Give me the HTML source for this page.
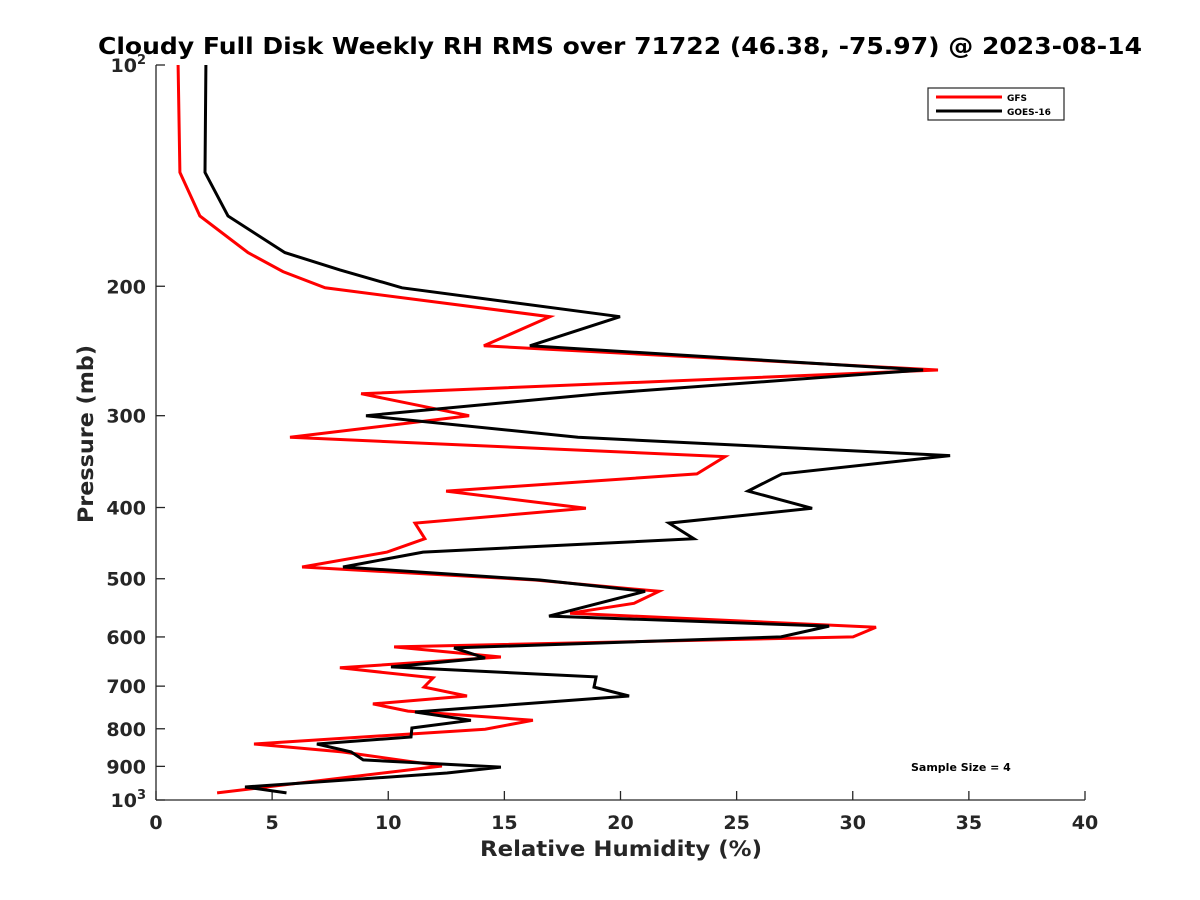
<!DOCTYPE html>
<html><head><meta charset="utf-8"><style>
body{margin:0;background:#fff;}
svg{display:block;font-family:"DejaVu Sans","Liberation Sans",sans-serif;}
</style></head><body>
<svg id="chart" width="1200" height="900"></svg>
<script>
const gfsRH=[0.95,1.03,1.89,3.96,5.47,7.28,16.96,14.12,33.67,8.83,13.48,5.77,24.5,23.29,12.49,18.51,11.15,11.58,9.95,6.29,16.32,21.66,20.58,17.83,31.0,30.01,10.25,14.85,7.92,11.93,11.54,13.39,9.34,10.85,16.23,14.17,4.22,8.01,12.31,2.63];
const gfsP=[100,140,160.5,180,191,201,220,241,260,280,300,321,341,360,380,401,420,441,460,482,502,520,540,557,582,600,619,639,661,682,702,722,740,757,779,801,839,860,899,978];
const goesRH=[2.15,2.11,3.10,5.55,7.92,10.59,19.98,16.10,33.03,19.12,9.04,18.17,34.19,26.95,25.49,28.25,22.09,23.16,11.50,8.05,16.53,21.06,16.92,28.98,26.91,12.83,14.17,10.12,18.95,18.86,20.37,11.15,13.56,11.02,10.98,6.93,8.40,8.92,14.85,12.53,3.83,5.62];
const goesP=[100,140,160.5,180,190,201,220,241,260,280,300,321,340,360,380,401,420,441,460,482,502,520,562,580,600,621,641,659,680,702,722,759,779,798,821,839,860,882,902,919,960,978];
const xTicks=[0,5,10,15,20,25,30,35,40];
const yTicks=[100,200,300,400,500,600,700,800,900,1000];
const yTickLabels=["10^2","200","300","400","500","600","700","800","900","10^3"];

const L=156,R=1085,T=65,B=800;
const sx=v=>L+(v-0)/(40-0)*(R-L);
const sy=p=>T+(Math.log10(p)-2)*(B-T);
const NS="http://www.w3.org/2000/svg";
const svg=document.getElementById('chart');
function mk(tag,attrs,parent){const e=document.createElementNS(NS,tag);for(const k in attrs)e.setAttribute(k,attrs[k]);(parent||svg).appendChild(e);return e;}

let ax=mk('line',{x1:L,y1:T,x2:L,y2:B,stroke:'#262626','stroke-width':1.3});


let ax2=mk('line',{x1:L,y1:B,x2:R,y2:B,stroke:'#262626','stroke-width':1.3});



xTicks.forEach(v=>{
  const x=sx(v);
  const t=mk('line',{x1:x,y1:B,x2:x,y2:B-9,stroke:'#262626','stroke-width':1.3});
  
  
  const tx=mk('text',{x:x,y:B+29,'text-anchor':'middle','font-size':19,'font-weight':'bold',fill:'#262626'});
  tx.textContent=v;
  
  
});
yTicks.forEach((v,i)=>{
  const y=sy(v);
  const t=mk('line',{x1:L,y1:y,x2:L+9,y2:y,stroke:'#262626','stroke-width':1.3});
  
  
  const lab=yTickLabels[i];
  const tx=mk('text',{x:L-10,y:y+7,'text-anchor':'end','font-size':19,'font-weight':'bold',fill:'#262626'});
  if(lab.indexOf('^')>=0){
    const parts=lab.split('^');
    const a=mk('tspan',{},tx);a.textContent=parts[0];
    const b=mk('tspan',{'font-size':13,dy:-8},tx);b.textContent=parts[1];
  } else tx.textContent=lab;
  
  
});

function series(rh,p,color,name){
  const pts=rh.map((v,i)=>sx(v).toFixed(1)+','+sy(p[i]).toFixed(1)).join(' ');
  const pl=mk('polyline',{points:pts,fill:'none',stroke:color,'stroke-width':3,'stroke-linejoin':'miter'});
  
  
}
series(gfsRH,gfsP,'#ff0000','gfs-line');
series(goesRH,goesP,'#000000','goes16-line');

let t=mk('text',{x:98,y:54,'font-size':23,'font-weight':'bold',fill:'#000',textLength:1044,lengthAdjust:'spacingAndGlyphs'});
t.textContent='Cloudy Full Disk Weekly RH RMS over 71722 (46.38, -75.97) @ 2023-08-14';


t=mk('text',{x:480,y:856,'font-size':21,'font-weight':'bold',fill:'#262626',textLength:282,lengthAdjust:'spacingAndGlyphs'});
t.textContent='Relative Humidity (%)';


t=mk('text',{x:0,y:0,'font-size':21,'font-weight':'bold',fill:'#262626',textLength:178,lengthAdjust:'spacingAndGlyphs',transform:'translate(93 523) rotate(-90)'});
t.textContent='Pressure (mb)';


t=mk('text',{x:911,y:771,'font-size':11,'font-weight':'bold',fill:'#000'});
t.textContent='Sample Size = 4';



const lg=mk('g',{});


mk('rect',{x:928,y:88,width:136,height:32,fill:'#fff',stroke:'#262626','stroke-width':1.2},lg);
let e=mk('line',{x1:936,y1:97,x2:1002,y2:97,stroke:'#ff0000','stroke-width':3},lg);


e=mk('text',{x:1007,y:101,'font-size':9,'font-weight':'bold',fill:'#000'},lg);
e.textContent='GFS';


e=mk('line',{x1:936,y1:111,x2:1002,y2:111,stroke:'#000','stroke-width':3},lg);


e=mk('text',{x:1007,y:115,'font-size':9,'font-weight':'bold',fill:'#000'},lg);
e.textContent='GOES-16';


</script>
</body></html>
